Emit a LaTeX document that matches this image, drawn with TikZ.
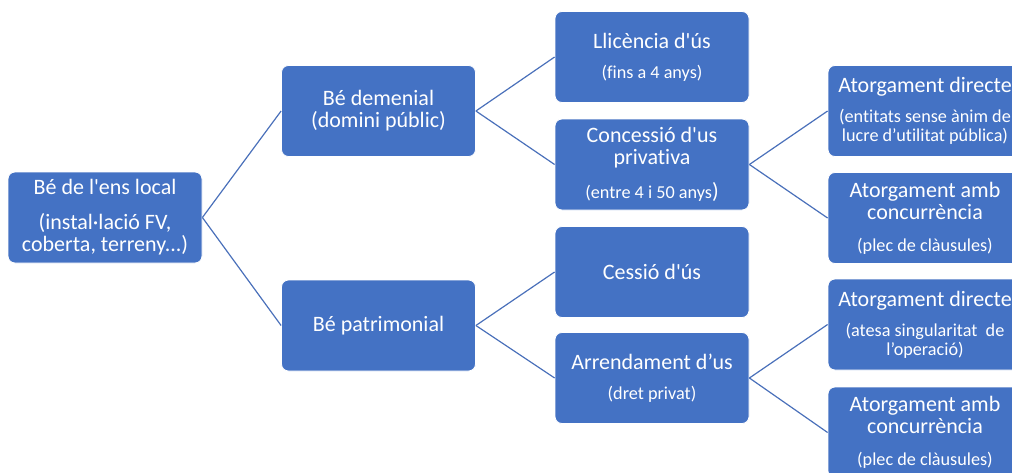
\documentclass[tikz,border=0pt]{standalone}
\usepackage{fontspec}
\setmainfont{Carlito}[Ligatures={TeXOff,NoCommon}]
\definecolor{boxblue}{HTML}{4472C4}
\definecolor{lineblue}{HTML}{4A70BA}
\newcommand{\subtx}[1]{{\fontsize{18.2}{19}\selectfont #1}}
\tikzset{
  box/.style={draw=white, line width=0.8pt, fill=boxblue, rounded corners=7pt,
    minimum width=194pt, minimum height=91pt, text=white, align=center,
    font=\fontsize{22}{22}\selectfont, inner sep=2pt},
  link/.style={draw=lineblue, line width=1.2pt}
}
\begin{document}
\begin{tikzpicture}[x=1pt,y=-1pt]
\useasboundingbox (0,0) rectangle (1012,472);
\clip (0,0) rectangle (1012,472);
\node[box] (root) at (105,217.5) {Bé de l'ens local\\[13pt](instal·lació FV,\\coberta, terreny...)};
\node[box] (dem) at (378.5,111) {Bé demenial\\(domini públic)};
\node[box] (pat) at (378.5,325.5) {Bé patrimonial};
\node[box] (llic) at (652,57) {Llicència d'ús\\[8pt]\subtx{(fins a 4 anys)}};
\node[box] (conc) at (652,164.5) {Concessió d'us\\privativa\\[12pt]\subtx{(entre 4 i 50 anys}){}};
\node[box] (cess) at (652,272) {Cessió d'ús};
\node[box] (arr) at (652,378) {Arrendament d’us\\[8pt]\subtx{(dret privat)}};
\node[box] (ad1) at (925,111) {Atorgament directe\\[8pt]\subtx{(entitats sense ànim de}\\[-3pt]\subtx{lucre d’utilitat pública)}};
\node[box] (aa1) at (925,218) {Atorgament amb\\concurrència\\[10pt]\subtx{(plec de clàusules)}};
\node[box] (ad2) at (925,324.5) {Atorgament directe\\[8pt]\subtx{(atesa singularitat\ \ de}\\[-3pt]\subtx{l’operació)}};
\node[box] (aa2) at (925,432.5) {Atorgament amb\\concurrència\\[10pt]\subtx{(plec de clàusules)}};
\draw[link] (root.east) -- (dem.west);
\draw[link] (root.east) -- (pat.west);
\draw[link] (dem.east) -- (llic.west);
\draw[link] (dem.east) -- (conc.west);
\draw[link] (pat.east) -- (cess.west);
\draw[link] (pat.east) -- (arr.west);
\draw[link] (conc.east) -- (ad1.west);
\draw[link] (conc.east) -- (aa1.west);
\draw[link] (arr.east) -- (ad2.west);
\draw[link] (arr.east) -- (aa2.west);
\end{tikzpicture}
\end{document}
